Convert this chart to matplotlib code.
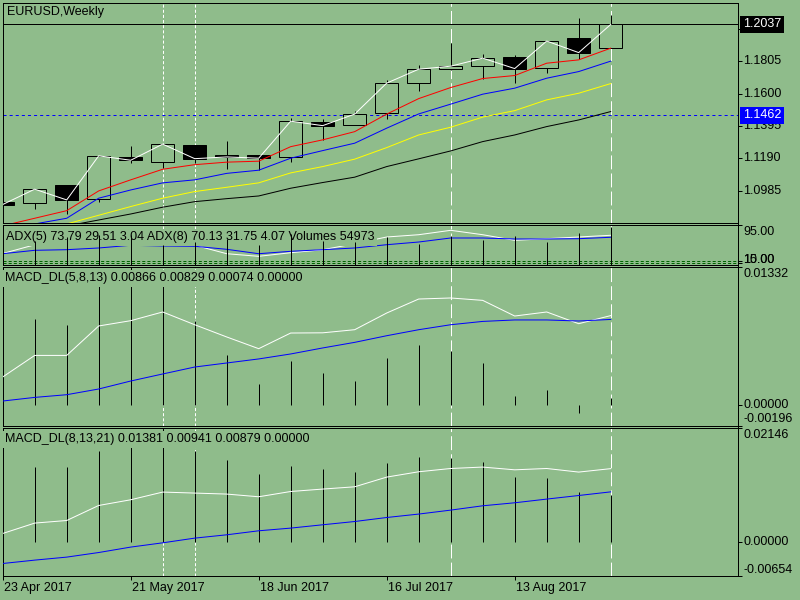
import numpy as np
import matplotlib
matplotlib.use("Agg")
import matplotlib.pyplot as plt
from matplotlib.lines import Line2D

# weekly EURUSD, 23 Apr 2017 .. 3 Sep 2017 (20 bars)
opens = [1.0912, 1.0906, 1.1022, 1.0931, 1.1197, 1.1169, 1.1275, 1.1212, 1.1212, 1.1197,
         1.1419, 1.1400, 1.1476, 1.1666, 1.1754, 1.1773, 1.1830, 1.1761, 1.1951, 1.1887]
highs = [1.0915, 1.0997, 1.1024, 1.1208, 1.1269, 1.1282, 1.1277, 1.1300, 1.1214, 1.1444,
         1.1440, 1.1490, 1.1687, 1.1780, 1.1919, 1.1849, 1.1845, 1.1934, 1.2081, 1.2098]
lows = [1.0890, 1.0870, 1.0836, 1.0916, 1.1159, 1.1128, 1.1159, 1.1123, 1.1117, 1.1169,
        1.1307, 1.1398, 1.1438, 1.1613, 1.1752, 1.1693, 1.1666, 1.1733, 1.1818, 1.1885]
closes = [1.0898, 1.0995, 1.0927, 1.1206, 1.1178, 1.1280, 1.1188, 1.1199, 1.1191, 1.1425,
          1.1397, 1.1470, 1.1666, 1.1754, 1.1773, 1.1824, 1.1758, 1.1932, 1.1859, 1.2037]

ma_red = [1.0763, 1.0811, 1.0859, 1.0984, 1.1054, 1.1121, 1.1150, 1.1166, 1.1172, 1.1264,
          1.1307, 1.1359, 1.1470, 1.1568, 1.1638, 1.1695, 1.1714, 1.1792, 1.1813, 1.1887]
ma_blue = [1.0740, 1.0775, 1.0811, 1.0938, 1.0990, 1.1035, 1.1054, 1.1095, 1.1115, 1.1191,
           1.1239, 1.1286, 1.1381, 1.1471, 1.1533, 1.1596, 1.1634, 1.1697, 1.1739, 1.1805]
ma_yellow = [1.0700, 1.0735, 1.0775, 1.0830, 1.0885, 1.0938, 1.0980, 1.1007, 1.1035, 1.1098,
             1.1138, 1.1185, 1.1258, 1.1338, 1.1387, 1.1451, 1.1492, 1.1560, 1.1602, 1.1663]
ma_black = [1.0690, 1.0725, 1.0762, 1.0800, 1.0838, 1.0881, 1.0916, 1.0935, 1.0952, 1.1001,
            1.1037, 1.1071, 1.1138, 1.1187, 1.1237, 1.1296, 1.1338, 1.1391, 1.1433, 1.1486]
price_ticks = [1.2010, 1.1805, 1.1600, 1.1395, 1.1190, 1.0985]
last_price = 1.2037
blue_level = 1.1462

# ADX / volumes sub-window (panel units, 0..95)
adx_white = [27, 48, 50, 57, 60, 54, 47, 26.5, 20.2, 28.9, 36, 50.6, 66.8, 72.3, 82.9, 72.3,
             58.8, 62.7, 66.8, 70.9]
adx_blue = [26.5, 34.7, 36.2, 40.3, 46.8, 45.1, 44.4, 37.1, 26.5, 32.3, 36.2, 40.3, 48.2, 54.7,
            64.4, 64.4, 62.0, 62.0, 62.7, 66.1]
volumes = [np.nan, 57.1, 67.5, 70.9, 70.9, 46.8, 54.7, 62.7, 46.8, 74.7, 56.4, 54.7, 67.5, 49.9,
           69.2, 58.8, 69.2, 54.7, 76.4, 91.6]
adx_levels = [8.2, 3.4]
adx_level_labels = ["10.00", "15.00"]

macd1_hist = [np.nan, 0.00836, 0.00778, 0.0121, 0.01332, 0.0128, 0.00810, 0.00489, 0.00209,
              0.00431, 0.00315, 0.00238, 0.00460, 0.00585, 0.00521, 0.00412, 0.00087, 0.00151,
              -0.00077, 0.00074]
macd1_white = [0.00274, 0.00482, 0.00482, 0.00766, 0.00817, 0.00901, 0.00778, 0.00660, 0.00547,
               0.00698, 0.00700, 0.00730, 0.00891, 0.01026, 0.01036, 0.01013, 0.00862, 0.00901,
               0.00788, 0.00866]
macd1_blue = [0.00042, 0.00077, 0.00103, 0.00158, 0.00235, 0.00303, 0.00370, 0.00409, 0.00448,
              0.00496, 0.00554, 0.00608, 0.00672, 0.00730, 0.00778, 0.00810, 0.00824, 0.00824,
              0.00814, 0.00829]

macd2_hist = [np.nan, 0.01403, 0.01403, 0.01720, 0.0205, 0.02146, 0.01725, 0.01536, 0.01289,
              0.01422, 0.01373, 0.01327, 0.01479, 0.01593, 0.01581, 0.01498, 0.01232, 0.01202,
              0.00929, 0.00879]
macd2_white = [0.00152, 0.00349, 0.00398, 0.00683, 0.00791, 0.00937, 0.00918, 0.00899, 0.00848,
               0.00948, 0.00994, 0.01037, 0.01221, 0.01322, 0.01384, 0.01411, 0.01359, 0.01384,
               0.01316, 0.01381]
macd2_blue = [-0.00417, -0.00353, -0.00296, -0.00209, -0.00106, -0.00025, 0.00064, 0.00127,
              0.00203, 0.00254, 0.00317, 0.00379, 0.00455, 0.00520, 0.00595, 0.00677, 0.00734,
              0.00804, 0.00872, 0.00941]

date_bars = [0, 4, 8, 12, 16]
date_labels = ["23 Apr 2017", "21 May 2017", "18 Jun 2017", "16 Jul 2017", "13 Aug 2017"]
fine_marks = [5, 6]
long_marks = [14, 19]

BG = "#8FBC8B"
PX = 0.72          # one screen pixel in points (dpi 100)
W, H = 800, 600
LEFT, RIGHT = 2.5, 737.5
BAR0, STEP = 2.7, 32.0

plt.rcParams["font.family"] = ["Liberation Sans", "DejaVu Sans"]
plt.rcParams["font.size"] = 9
plt.rcParams["lines.scale_dashes"] = False

fig = plt.figure(figsize=(W / 100, H / 100), dpi=100, facecolor=BG)
x = np.arange(len(closes))


def panel(top, bottom):
    ax = fig.add_axes([LEFT / W, 1 - bottom / H, (RIGHT - LEFT) / W, (bottom - top) / H])
    ax.set_facecolor(BG)
    ax.set_xlim((LEFT - BAR0) / STEP, (RIGHT - BAR0) / STEP)
    for s in ax.spines.values():
        s.set_linewidth(PX)
        s.set_color("black")
    ax.tick_params(axis="x", bottom=False, labelbottom=False)
    ax.tick_params(axis="y", left=False, labelleft=False, right=True, labelright=False,
                   direction="out", length=3, width=PX, color="black")
    for b in fine_marks:
        ax.axvline(b, color="white", lw=PX, dashes=(2.2, 1.5), zorder=1)
    for b in long_marks:
        ax.axvline(b, color="white", lw=PX, dashes=(10, 3), zorder=1)
    return ax


def rlabel(ax, y, text, dy=0, **kw):
    ax.annotate(text, xy=(1, y), xycoords=("axes fraction", "data"), xytext=(5.5, dy),
                textcoords="offset pixels", ha="left", va="center", annotation_clip=False, **kw)


def caption(ax, text, dx, dy, cover=True, z=5):
    bbox = dict(boxstyle="square,pad=0.2", fc=BG, ec="none") if cover else None
    ax.annotate(text, xy=(0, 1), xycoords="axes fraction", xytext=(dx, dy),
                textcoords="offset pixels", ha="left", va="center", bbox=bbox, zorder=z)


# ---- main price panel
ax = panel(2.5, 223)
ax.set_ylim(1.0781, 1.2176)
o, c = np.array(opens), np.array(closes)
up = c >= o
ax.vlines(x, lows, highs, colors="black", lw=PX, zorder=2)
ax.bar(x, np.maximum(np.abs(c - o), 0.0002), bottom=np.minimum(o, c), width=0.7,
       color=[BG if u else "black" for u in up], edgecolor="black", linewidth=PX, zorder=3)
ax.plot(x, ma_black, color="black", lw=PX, zorder=4)
ax.plot(x, ma_yellow, color="#FFFF00", lw=PX, zorder=4)
ax.plot(x, ma_blue, color="#0000FF", lw=PX, zorder=4)
ax.plot(x, ma_red, color="#FF0000", lw=PX, zorder=4)
ax.plot(x, closes, color="white", lw=PX, zorder=5)
ax.axhline(last_price, color="black", lw=PX, zorder=2)
ax.axhline(blue_level, color="#0000FF", lw=PX, dashes=(2.2, 2.2), zorder=2)
ax.set_yticks(price_ticks)
for p in price_ticks:
    rlabel(ax, p, f"{p:.4f}")
rlabel(ax, last_price, f"{last_price:.4f}", color="white", zorder=6,
       bbox=dict(boxstyle="square,pad=0.22", fc="black", ec="none"))
rlabel(ax, blue_level, f"{blue_level:.4f}", color="white", zorder=6,
       bbox=dict(boxstyle="square,pad=0.22", fc="#0000FF", ec="none"))
caption(ax, "EURUSD,Weekly", 4.8, -9.2, cover=False)

# ---- ADX + volumes
ax = panel(225.3, 264.7)
ax.set_ylim(0, 95)
for lv in adx_levels:
    ax.axhline(lv, color="#006400", lw=PX, dashes=(2.2, 1.5), zorder=1.5)
ax.plot(x, adx_white, color="white", lw=PX, zorder=2)
ax.plot(x, adx_blue, color="#0000FF", lw=PX, zorder=2)
caption(ax, "ADX(5) 73.79 29.51 3.04 ADX(8) 70.13 31.75 4.07 Volumes 54973", 3.5, -12, z=3)
ax.vlines(x, 0, volumes, colors="black", lw=PX, zorder=4)
ax.set_yticks([95] + adx_levels)
rlabel(ax, 95, "95.00", dy=-6.4)
for lv, t, d in zip(adx_levels, adx_level_labels, [1.5, 3.5]):
    rlabel(ax, lv, t, dy=d)

# ---- MACD panels
for top, bottom, lo, hi, hist, wl, bl, name in [
        (267.3, 425.7, -0.00196, 0.01332, macd1_hist, macd1_white, macd1_blue,
         "MACD_DL(5,8,13) 0.00866 0.00829 0.00074 0.00000"),
        (428.3, 576.0, -0.00654, 0.02146, macd2_hist, macd2_white, macd2_blue,
         "MACD_DL(8,13,21) 0.01381 0.00941 0.00879 0.00000")]:
    ax = panel(top, bottom)
    ax.set_ylim(lo, hi)
    ax.vlines(x, 0, hist, colors="black", lw=PX, zorder=2)
    ax.plot(x, wl, color="white", lw=PX, zorder=3)
    ax.plot(x, bl, color="#0000FF", lw=PX, zorder=3)
    caption(ax, name, 2.5, -11)
    ax.set_yticks([hi, 0, lo])
    rlabel(ax, hi, f"{hi:.5f}", dy=-7)
    rlabel(ax, 0, "0.00000")
    rlabel(ax, lo, f"{lo:.5f}", dy=6.4)

# time axis on the last panel
ax.set_xticks(date_bars)
ax.tick_params(axis="x", bottom=True, labelbottom=False, direction="out", length=3,
               width=PX, color="black")
for b, t in zip(date_bars, date_labels):
    ax.annotate(t, xy=(b, 0), xycoords=("data", "axes fraction"), xytext=(1.5, -11.7),
                textcoords="offset pixels", ha="left", va="center", annotation_clip=False)

# continuous price-scale line on the right
fig.add_artist(Line2D([RIGHT / W, RIGHT / W], [1 - 576 / H, 1 - 2.5 / H],
                      color="black", lw=PX))

fig.savefig("out.png", dpi=100, facecolor=BG)
